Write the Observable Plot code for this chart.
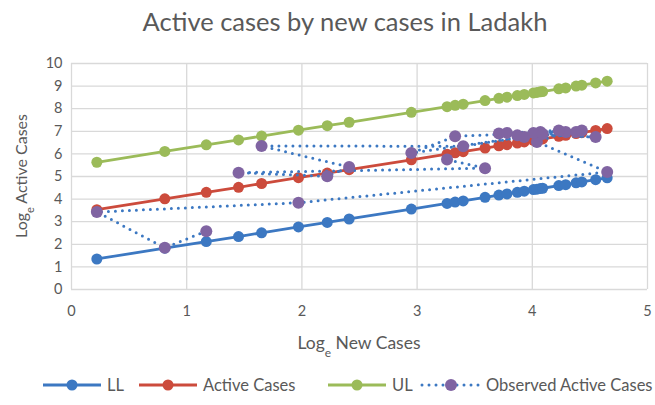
<!DOCTYPE html>
<html>
<head>
<meta charset="utf-8">
<script src="https://cdn.jsdelivr.net/npm/d3@7"></script>
<script src="https://cdn.jsdelivr.net/npm/@observablehq/plot@0.6"></script>
<style>
  html, body { margin: 0; padding: 0; background: #fff; }
  #wrap { position: relative; width: 655px; height: 405px; font-family: Lato, "Open Sans", sans-serif; color: #595959; }
  #title { position: absolute; left: 35px; right: 0; top: 5px; text-align: center; font-size: 25.5px; line-height: 32px; color: #595959; }
  #chart { position: absolute; left: 0; top: 45px; }
  #legend { position: absolute; left: 0; top: 365px; }
</style>
</head>
<body>
<div id="wrap">
  <div id="title">Active cases by new cases in Ladakh</div>
  <div id="chart"></div>
  <div id="legend"></div>
</div>
<script>
// Fitted lines (Loge new cases on x)
const newCasesLog = [0.22,0.81,1.17,1.45,1.65,1.97,2.22,2.41,2.95,3.26,3.33,3.40,3.59,3.71,3.78,3.87,3.93,4.01,4.04,4.07,4.09,4.23,4.29,4.38,4.43,4.55,4.65];
const llValues     = [1.35,1.83,2.12,2.34,2.51,2.77,2.97,3.12,3.56,3.81,3.87,3.92,4.08,4.18,4.23,4.30,4.35,4.42,4.44,4.47,4.48,4.60,4.64,4.72,4.76,4.86,4.94];
const activeValues = [3.53,4.01,4.30,4.52,4.69,4.95,5.15,5.30,5.74,5.99,6.05,6.10,6.26,6.36,6.41,6.48,6.53,6.60,6.62,6.65,6.66,6.78,6.82,6.90,6.94,7.04,7.12];
const ulValues     = [5.63,6.11,6.40,6.62,6.79,7.05,7.25,7.40,7.84,8.09,8.15,8.20,8.36,8.46,8.51,8.58,8.63,8.70,8.72,8.75,8.76,8.88,8.92,9.00,9.04,9.14,9.22];

// Observed active cases, in time order
const observedX = [1.17,0.81,0.22,1.97,4.65,4.04,4.29,3.71,4.55,3.78,4.23,3.87,4.38,4.07,3.93,4.43,4.01,3.33,2.95,4.09,3.40,1.65,2.41,2.22,1.45,3.59,3.26];
const observedY = [2.58,1.85,3.43,3.84,5.20,6.53,6.97,6.90,6.75,6.93,7.04,6.82,6.97,6.97,6.75,7.04,6.93,6.78,6.04,6.88,6.34,6.35,5.42,5.01,5.17,5.37,5.75];

const xTicks = [0,1,2,3,4,5];
const yTicks = [0,1,2,3,4,5,6,7,8,9,10];

const seriesNames = ["LL", "Active Cases", "UL", "Observed Active Cases"];
const colors = {LL: "#3C78C2", "Active Cases": "#CC4B3C", UL: "#9BBB59", "Observed Active Cases": "#8064A2"};
const dotLineColor = "#3C78C2";

const fitted = newCasesLog.map((x, i) => ({x, ll: llValues[i], active: activeValues[i], ul: ulValues[i]}));
const observed = observedX.map((x, i) => ({x, y: observedY[i]}));

const W = 655, H = 315;
const fmt = d3.format("d");
const plot = Plot.plot({
  width: W, height: H,
  marginTop: 18, marginBottom: 71, marginLeft: 71, marginRight: 8,
  style: {fontFamily: "Lato, 'Open Sans', sans-serif", fontSize: "14.5px", color: "#595959", background: "white", overflow: "visible"},
  x: {domain: [0, 5], label: null},
  y: {domain: [0, 10], label: null},
  marks: [
    Plot.gridX(xTicks, {stroke: "#d9d9d9", strokeOpacity: 1, strokeWidth: 1.3}),
    Plot.gridY(yTicks, {stroke: "#d9d9d9", strokeOpacity: 1, strokeWidth: 1.3}),
    Plot.axisX(xTicks, {tickSize: 0, tickPadding: 16, tickFormat: fmt, fill: "#595959", fontSize: 14.5, label: null}),
    Plot.axisY(yTicks, {tickSize: 0, tickPadding: 9, tickFormat: fmt, fill: "#595959", fontSize: 14.5, label: null}),
    Plot.line(fitted, {x: "x", y: "ll", stroke: colors.LL, strokeWidth: 2.8}),
    Plot.dot(fitted, {x: "x", y: "ll", r: 5.5, fill: colors.LL}),
    Plot.line(fitted, {x: "x", y: "active", stroke: colors["Active Cases"], strokeWidth: 2.8}),
    Plot.dot(fitted, {x: "x", y: "active", r: 5.5, fill: colors["Active Cases"]}),
    Plot.line(fitted, {x: "x", y: "ul", stroke: colors.UL, strokeWidth: 2.8}),
    Plot.dot(fitted, {x: "x", y: "ul", r: 5.5, fill: colors.UL}),
    Plot.line(observed, {x: "x", y: "y", stroke: dotLineColor, strokeWidth: 3, strokeDasharray: "0,7", strokeLinecap: "round"}),
    Plot.dot(observed, {x: "x", y: "y", r: 6, fill: colors["Observed Active Cases"]})
  ]
});
document.getElementById("chart").appendChild(plot);

// Axis titles with subscript "e"
const svg = d3.select(plot);
const xt = svg.append("text")
  .attr("x", (71 + W - 8) / 2).attr("y", 304)
  .attr("text-anchor", "middle").attr("fill", "#595959")
  .style("font-size", "17.5px");
xt.append("tspan").text("Log");
xt.append("tspan").attr("baseline-shift", "sub").style("font-size", "12px").text("e");
xt.append("tspan").text(" New Cases");

const yt = svg.append("text")
  .attr("transform", `translate(27,${(18 + H - 71) / 2}) rotate(-90)`)
  .attr("text-anchor", "middle").attr("fill", "#595959")
  .style("font-size", "16px");
yt.append("tspan").text("Log");
yt.append("tspan").attr("baseline-shift", "sub").style("font-size", "11px").text("e");
yt.append("tspan").text(" Active Cases");

// Legend
const legendPos = [
  {name: "LL", x0: 43, dashed: false},
  {name: "Active Cases", x0: 139, dashed: false},
  {name: "UL", x0: 328, dashed: false},
  {name: "Observed Active Cases", x0: 422, dashed: true}
];
const lg = d3.select("#legend").append("svg").attr("width", W).attr("height", 40)
  .style("font-family", "Lato, 'Open Sans', sans-serif");
const cy = 20;
legendPos.forEach(d => {
  const g = lg.append("g");
  if (d.dashed) {
    g.append("line").attr("x1", d.x0).attr("x2", d.x0 + 58).attr("y1", cy).attr("y2", cy)
      .attr("stroke", dotLineColor).attr("stroke-width", 3).attr("stroke-dasharray", "0,7").attr("stroke-linecap", "round");
  } else {
    g.append("line").attr("x1", d.x0).attr("x2", d.x0 + 58).attr("y1", cy).attr("y2", cy)
      .attr("stroke", colors[d.name]).attr("stroke-width", 2.8);
  }
  g.append("circle").attr("cx", d.x0 + 29).attr("cy", cy).attr("r", d.dashed ? 6 : 5.5).attr("fill", colors[d.name]);
  g.append("text").attr("x", d.x0 + 64).attr("y", cy).attr("dy", "0.35em")
    .attr("fill", "#595959").style("font-size", "16.5px").text(d.name);
});
</script>
</body>
</html>
